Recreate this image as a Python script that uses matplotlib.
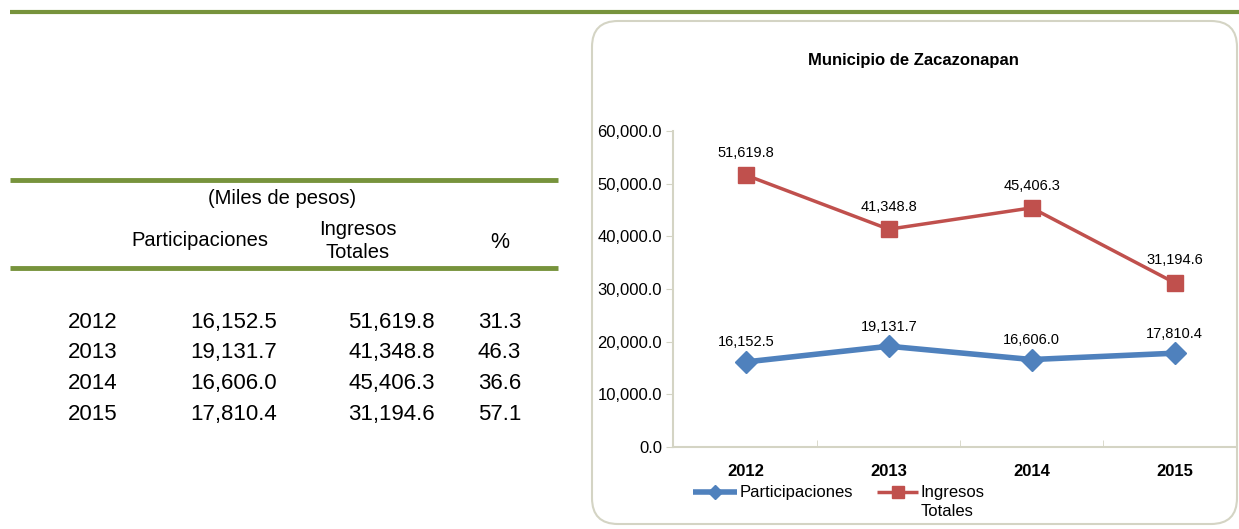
"""Participaciones vs Ingresos Totales, Municipio de Zacazonapan."""

import matplotlib.pyplot as plt
from matplotlib.patches import FancyBboxPatch

plt.rcParams["font.family"] = ["Liberation Sans", "DejaVu Sans"]

years = ["2012", "2013", "2014", "2015"]
participaciones = [16152.5, 19131.7, 16606.0, 17810.4]
ingresos_totales = [51619.8, 41348.8, 45406.3, 31194.6]
porcentaje = [31.3, 46.3, 36.6, 57.1]

GREEN = "#77933C"
BLUE = "#4F81BD"
RED = "#C0504D"
FRAME = "#D4D4C4"

W, H = 1239, 529
fig = plt.figure(figsize=(W / 100, H / 100), dpi=100)

# background layer in pixel coordinates
bg = fig.add_axes([0, 0, 1, 1])
bg.set_xlim(0, W)
bg.set_ylim(H, 0)
bg.axis("off")

bg.plot([10, W], [12, 12], color=GREEN, lw=3, solid_capstyle="butt")
bg.add_patch(FancyBboxPatch((592, 21), 645, 503, boxstyle="round,pad=0,rounding_size=26",
                            fc="white", ec=FRAME, lw=1.5))

# table on the left
bg.plot([10, 558], [180, 180], color=GREEN, lw=3.5, solid_capstyle="butt")
bg.plot([10, 558], [268, 268], color=GREEN, lw=3.5, solid_capstyle="butt")
bg.text(282, 199, "(Miles de pesos)", ha="center", va="center", fontsize=14.5)
bg.text(200, 241, "Participaciones", ha="center", va="center", fontsize=14.5)
bg.text(358, 241, "Ingresos\nTotales", ha="center", va="center", fontsize=14.5,
        linespacing=1.25)
bg.text(500, 243, "%", ha="center", va="center", fontsize=15.5)

row_base = [328, 358, 389, 420]
for y, yr, p, it, pct in zip(row_base, years, participaciones, ingresos_totales, porcentaje):
    bg.text(93, y, yr, ha="center", va="baseline", fontsize=16)
    bg.text(277, y, f"{p:,.1f}", ha="right", va="baseline", fontsize=16)
    bg.text(435, y, f"{it:,.1f}", ha="right", va="baseline", fontsize=16)
    bg.text(521, y, f"{pct:.1f}", ha="right", va="baseline", fontsize=16)

bg.text(913, 61, "Municipio de Zacazonapan", ha="center", va="center",
        fontsize=12, fontweight="bold")

# legend, drawn by hand to keep the two-line label top-aligned
bg.plot([693, 715, 737], [492, 492, 492], color=BLUE, lw=4, marker="D", ms=7,
        markevery=[1], solid_capstyle="butt")
bg.text(740, 493, "Participaciones", ha="left", va="center", fontsize=12)
bg.plot([877, 898, 918], [492, 492, 492], color=RED, lw=2.5, marker="s", ms=8,
        markevery=[1], solid_capstyle="butt")
bg.text(921, 493, "Ingresos", ha="left", va="center", fontsize=12)
bg.text(921, 511, "Totales", ha="left", va="center", fontsize=12)

# line chart
left, right, top, bottom = 673, 1236, 131, 447
ax = fig.add_axes([left / W, (H - bottom) / H, (right - left) / W, (bottom - top) / H])
ax.patch.set_alpha(0)
x = list(range(len(years)))
ax.plot(x, participaciones, color=BLUE, lw=4, marker="D", ms=11)
ax.plot(x, ingresos_totales, color=RED, lw=2.5, marker="s", ms=11)

for xi, v in zip(x, participaciones):
    ax.annotate(f"{v:,.1f}", (xi, v), xytext=(0, 9), textcoords="offset points",
                ha="center", va="bottom", fontsize=10.5)
for xi, v in zip(x, ingresos_totales):
    ax.annotate(f"{v:,.1f}", (xi, v), xytext=(0, 11), textcoords="offset points",
                ha="center", va="bottom", fontsize=10.5)

ax.set_xlim(-0.51, 3.43)
ax.set_ylim(0, 60000)
ax.set_yticks(range(0, 60001, 10000))
ax.set_yticklabels([f"{t:,.1f}" for t in range(0, 60001, 10000)], fontsize=12)
ax.set_xticks(x)
ax.set_xticklabels(years, fontsize=12, fontweight="bold")
ax.set_xticks([0.5, 1.5, 2.5], minor=True)
ax.tick_params(axis="x", which="major", length=0, pad=12)
ax.tick_params(axis="x", which="minor", length=5, color=FRAME, direction="in")
ax.tick_params(axis="y", length=5, color=FRAME, pad=3)
for side in ("top", "right"):
    ax.spines[side].set_visible(False)
for side in ("left", "bottom"):
    ax.spines[side].set_color(FRAME)
    ax.spines[side].set_linewidth(1.5)

fig.savefig("out.png", dpi=100)
